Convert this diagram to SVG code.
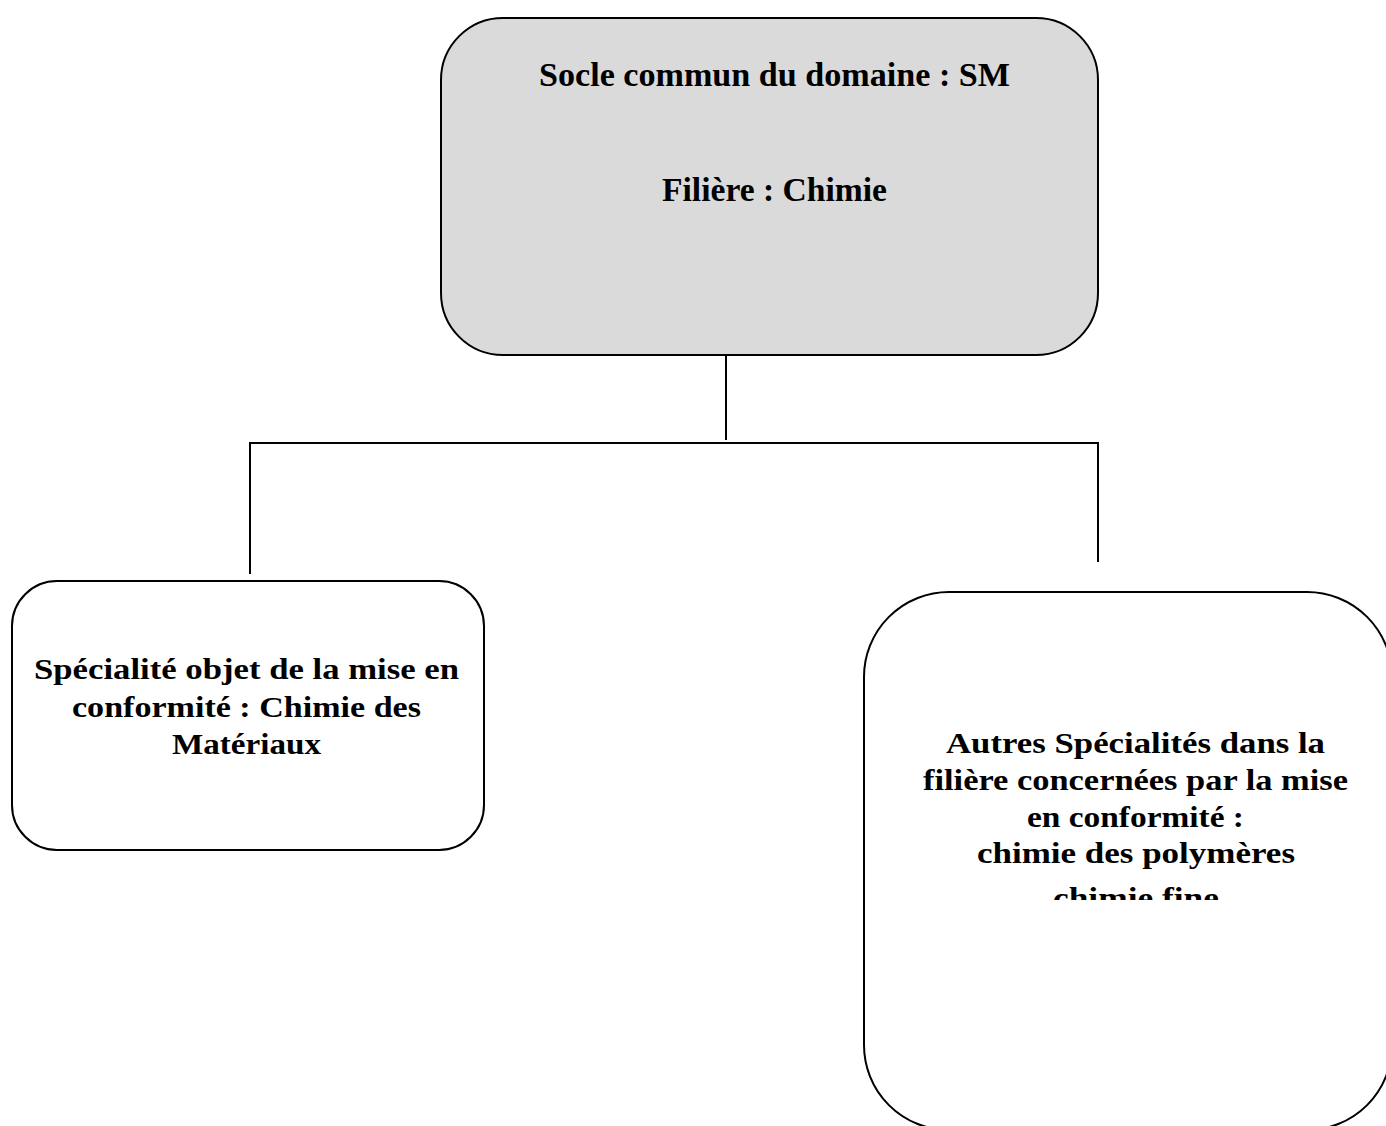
<svg xmlns="http://www.w3.org/2000/svg" width="1386" height="1126" viewBox="0 0 1386 1126">
<style>
.box{stroke:#000;stroke-width:2;}
.t{font-family:"Liberation Serif","Times New Roman",serif;font-weight:bold;fill:#000;text-anchor:middle;}
.conn{stroke:#000;stroke-width:2;fill:none;}
</style>
<defs>
<clipPath id="clipRight"><rect x="864" y="592" width="528" height="308"/></clipPath>
</defs>
<rect width="1386" height="1126" fill="#fff"/>
<g id="connectors">
<line class="conn" x1="726" y1="355" x2="726" y2="440"/>
<line class="conn" x1="249" y1="443" x2="1099" y2="443"/>
<line class="conn" x1="250" y1="442" x2="250" y2="574"/>
<line class="conn" x1="1098" y1="442" x2="1098" y2="562"/>
</g>
<g id="node-socle">
<rect class="box" x="441" y="18" width="657" height="337" rx="62" ry="62" fill="#dadada"/>
<text class="t" font-size="33" x="774.5" y="86" textLength="471" lengthAdjust="spacingAndGlyphs">Socle commun du domaine : SM</text>
<text class="t" font-size="33" x="774.5" y="201" textLength="225" lengthAdjust="spacingAndGlyphs">Filière : Chimie</text>
</g>
<g id="node-specialite">
<rect class="box" x="12" y="581" width="472" height="269" rx="45" ry="45" fill="#fff"/>
<text class="t" font-size="30" x="246.5" y="679" textLength="425" lengthAdjust="spacingAndGlyphs">Spécialité objet de la mise en</text>
<text class="t" font-size="30" x="246.5" y="717" textLength="349" lengthAdjust="spacingAndGlyphs">conformité : Chimie des</text>
<text class="t" font-size="30" x="246.5" y="754" textLength="149" lengthAdjust="spacingAndGlyphs">Matériaux</text>
</g>
<g id="node-autres">
<rect class="box" x="864" y="592" width="528" height="538" rx="85" ry="85" fill="#fff"/>
<g clip-path="url(#clipRight)">
<text class="t" font-size="30" x="1135.5" y="753" textLength="379" lengthAdjust="spacingAndGlyphs">Autres Spécialités dans la</text>
<text class="t" font-size="30" x="1135.5" y="790" textLength="425" lengthAdjust="spacingAndGlyphs">filière concernées par la mise</text>
<text class="t" font-size="30" x="1135.5" y="827" textLength="217" lengthAdjust="spacingAndGlyphs">en conformité :</text>
<text class="t" font-size="30" x="1136" y="863" textLength="318" lengthAdjust="spacingAndGlyphs">chimie des polymères</text>
<text class="t" font-size="30" x="1136" y="908" textLength="166" lengthAdjust="spacingAndGlyphs">chimie fine</text>
</g>
</g>
</svg>
